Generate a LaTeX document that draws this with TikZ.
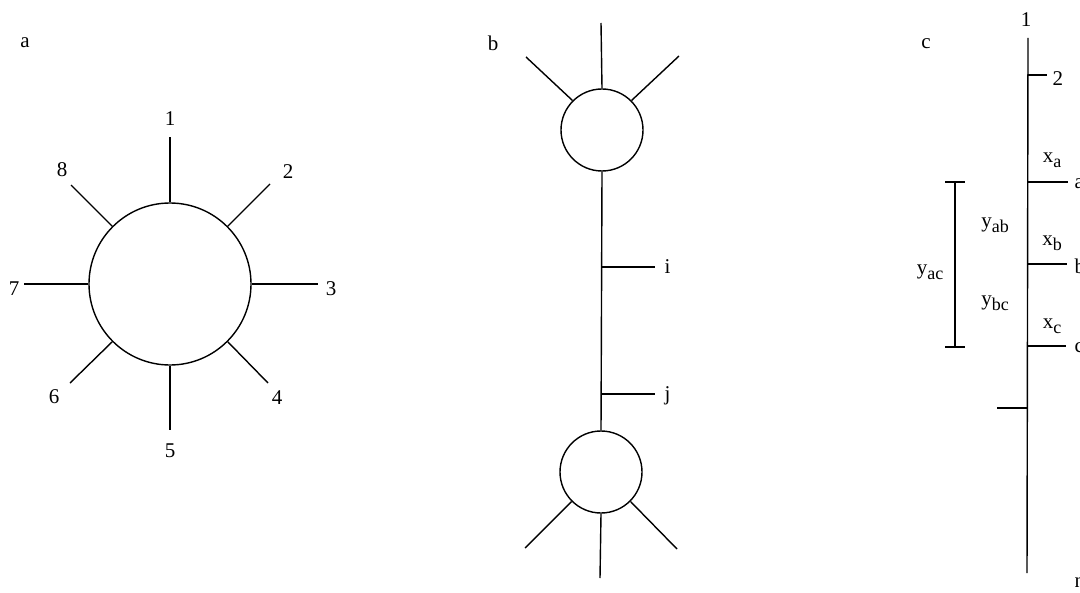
\documentclass[tikz,border=0pt]{standalone}
\usepackage{fontspec}
\setmainfont{Liberation Serif}
\newcommand{\subl}[2]{#1\raisebox{-0.55ex}{\small #2}}
\begin{document}
\begin{tikzpicture}[x=0.5pt,y=-0.5pt,line width=0.7pt,
  lbl/.style={inner sep=0pt,font=\fontsize{10.5}{12}\selectfont},
  blob/.style={draw,circle,inner sep=0pt,minimum size=#1}]
\useasboundingbox (0,0) rectangle (1080,593);

% ---- panel a: vertex with eight legs
\node[lbl] (la) at (25,43) {a};
\node[blob=81pt] (A) at (170,284) {};
\coordinate (a1) at (170,137);
\coordinate (a2) at (270,184);
\coordinate (a3) at (318,284);
\coordinate (a4) at (268,383);
\coordinate (a5) at (170,430);
\coordinate (a6) at (70,383);
\coordinate (a7) at (24,284);
\coordinate (a8) at (71,185);
\draw (A.90) -- (a1);
\draw (A.45) -- (a2);
\draw (A.0) -- (a3);
\draw (A.-45) -- (a4);
\draw (A.-90) -- (a5);
\draw (A.-135) -- (a6);
\draw (A.180) -- (a7);
\draw (A.135) -- (a8);
\node[lbl] (n1) at (170,119) {1};
\node[lbl] (n2) at (288,172) {2};
\node[lbl] (n3) at (331,289) {3};
\node[lbl] (n4) at (277,398) {4};
\node[lbl] (n5) at (170,451) {5};
\node[lbl] (n6) at (54,397) {6};
\node[lbl] (n7) at (14,289) {7};
\node[lbl] (n8) at (62,170) {8};

% ---- panel b: two vertices joined by a chain
\node[lbl] (lb) at (493,43) {b};
\node[blob=41pt] (B1) at (602,130) {};
\node[blob=41pt] (B2) at (601,472) {};
\coordinate (bt) at (601,23);
\coordinate (btl) at (526,57);
\coordinate (btr) at (679,56);
\coordinate (bb) at (600,578);
\coordinate (bbl) at (525,548);
\coordinate (bbr) at (677,549);
\draw (B1.90) -- (bt);
\draw (B1.135) -- (btl);
\draw (B1.45) -- (btr);
\draw (B2.-90) -- (bb);
\draw (B2.-135) -- (bbl);
\draw (B2.-45) -- (bbr);
\draw (B1.-90) -- (B2.90);
\coordinate (bi0) at (601.5,267);
\coordinate (bi1) at (655,267);
\coordinate (bj0) at (601,394);
\coordinate (bj1) at (655,394);
\draw (bi0) -- (bi1);
\draw (bj0) -- (bj1);
\node[lbl,anchor=west] (ni) at (664,267) {i};
\node[lbl,anchor=west] (nj) at (664,396) {j};

% ---- panel c: ordered line with marked points
\node[lbl] (lc) at (926,44) {c};
\coordinate (ct) at (1028,38);
\coordinate (cb) at (1027,573);
\draw (ct) -- (cb);
\node[lbl] (c1) at (1026,20) {1};
\coordinate (c20) at (1028,75);
\coordinate (c21) at (1047,75);
\draw (c20) -- (c21);
\node[lbl,anchor=west] (c2) at (1052,79) {2};
\coordinate (ca0) at (1028,182);
\coordinate (ca1) at (1068,182);
\coordinate (cbb0) at (1028,264);
\coordinate (cbb1) at (1067,264);
\coordinate (cc0) at (1028,346);
\coordinate (cc1) at (1066,346);
\draw (ca0) -- (ca1);
\draw (cbb0) -- (cbb1);
\draw (cc0) -- (cc1);
\node[lbl,anchor=west] (pa) at (1074,184) {a};
\node[lbl,anchor=west] (pb) at (1074,266) {b};
\node[lbl,anchor=west] (pc) at (1074,348) {c};
\node[lbl] (xa) at (1052,160) {\subl{x}{a}};
\node[lbl] (xb) at (1052,243) {\subl{x}{b}};
\node[lbl] (xc) at (1052,326) {\subl{x}{c}};
\coordinate (cl0) at (997,408);
\coordinate (cl1) at (1027.5,408);
\draw (cl0) -- (cl1);
\node[lbl,anchor=west] (cn) at (1074,583) {n};
% bracket spanning a to c
\coordinate (br0) at (955,182);
\coordinate (br1) at (955,347);
\draw (br0) -- (br1);
\draw (945,182) -- (965,182);
\draw (945,347) -- (965,347);
\node[lbl] (yac) at (930,272) {\subl{y}{ac}};
\node[lbl] (yab) at (995,225) {\subl{y}{ab}};
\node[lbl] (ybc) at (995,303) {\subl{y}{bc}};
\end{tikzpicture}
\end{document}
